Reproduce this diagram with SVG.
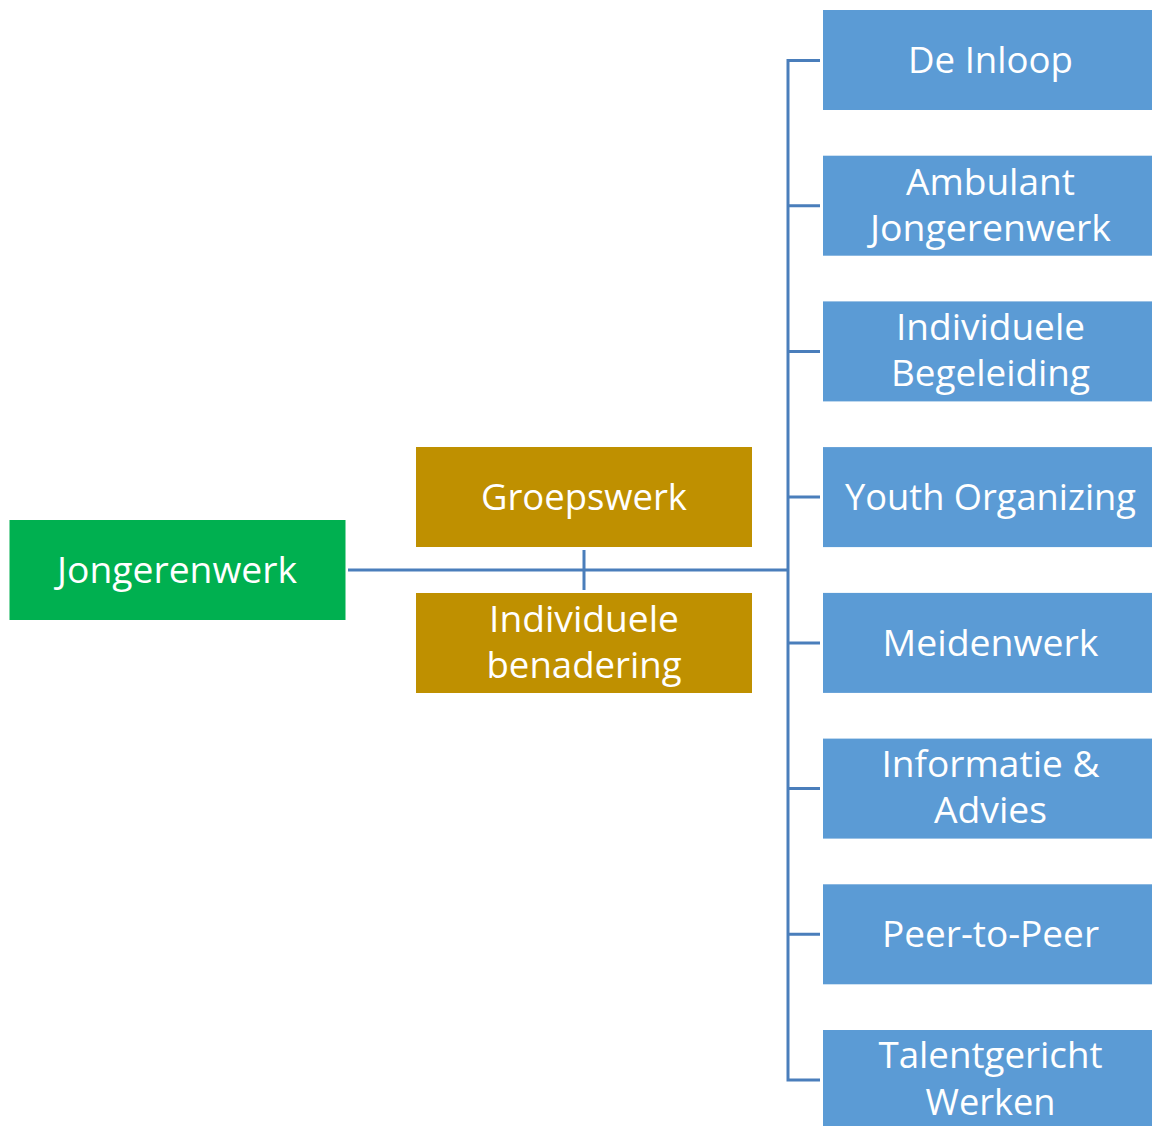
<svg xmlns="http://www.w3.org/2000/svg" width="1152" height="1126" viewBox="0 0 1152 1126">
<style>
.t{font-family:"Open Sans","Noto Sans","Liberation Sans",sans-serif;font-size:36px;fill:#ffffff;text-anchor:middle}
.blue{fill:#5B9BD5}
.gold{fill:#BF9000}
.green{fill:#00B050}
.c{stroke:#4A7EBB;stroke-width:3;fill:none}
</style>
<rect width="1152" height="1126" fill="#ffffff"/>
<g id="connectors">
<path class="c" d="M348 570H788M584 550V590M820 60.5H788V1080H820M788 205.7H820M788 351.4H820M788 497.1H820M788 642.9H820M788 788.6H820M788 934.3H820"/>
</g>
<g id="jongerenwerk"><rect class="green" x="9.5" y="520" width="336" height="100"/><text class="t" x="177" y="583" textLength="240" lengthAdjust="spacingAndGlyphs">Jongerenwerk</text></g>
<g id="groepswerk"><rect class="gold" x="416" y="447" width="336" height="100"/><text class="t" x="584" y="510" textLength="206" lengthAdjust="spacingAndGlyphs">Groepswerk</text></g>
<g id="individuele-benadering"><rect class="gold" x="416" y="593" width="336" height="100"/><text class="t" x="584" y="632" textLength="190" lengthAdjust="spacingAndGlyphs">Individuele</text><text class="t" x="584" y="678" textLength="195" lengthAdjust="spacingAndGlyphs">benadering</text></g>
<g id="de-inloop"><rect class="blue" x="823" y="10" width="335" height="100"/><text class="t" x="990.5" y="73" textLength="165" lengthAdjust="spacingAndGlyphs">De Inloop</text></g>
<g id="ambulant-jongerenwerk"><rect class="blue" x="823" y="155.7" width="335" height="100"/><text class="t" x="990.5" y="195" textLength="169" lengthAdjust="spacingAndGlyphs">Ambulant</text><text class="t" x="990.5" y="241" textLength="241" lengthAdjust="spacingAndGlyphs">Jongerenwerk</text></g>
<g id="individuele-begeleiding"><rect class="blue" x="823" y="301.4" width="335" height="100"/><text class="t" x="990.5" y="340" textLength="189" lengthAdjust="spacingAndGlyphs">Individuele</text><text class="t" x="990.5" y="386" textLength="199" lengthAdjust="spacingAndGlyphs">Begeleiding</text></g>
<g id="youth-organizing"><rect class="blue" x="823" y="447.1" width="335" height="100"/><text class="t" x="990.5" y="510" textLength="291" lengthAdjust="spacingAndGlyphs">Youth Organizing</text></g>
<g id="meidenwerk"><rect class="blue" x="823" y="592.9" width="335" height="100"/><text class="t" x="990.5" y="656" textLength="216" lengthAdjust="spacingAndGlyphs">Meidenwerk</text></g>
<g id="informatie-advies"><rect class="blue" x="823" y="738.6" width="335" height="100"/><text class="t" x="990.5" y="777" textLength="218" lengthAdjust="spacingAndGlyphs">Informatie &amp;</text><text class="t" x="990.5" y="823" textLength="113" lengthAdjust="spacingAndGlyphs">Advies</text></g>
<g id="peer-to-peer"><rect class="blue" x="823" y="884.3" width="335" height="100"/><text class="t" x="990.5" y="947" textLength="217" lengthAdjust="spacingAndGlyphs">Peer-to-Peer</text></g>
<g id="talentgericht-werken"><rect class="blue" x="823" y="1030" width="335" height="100"/><text class="t" x="990.5" y="1068" textLength="224" lengthAdjust="spacingAndGlyphs">Talentgericht</text><text class="t" x="990.5" y="1115" textLength="130" lengthAdjust="spacingAndGlyphs">Werken</text></g>
</svg>
